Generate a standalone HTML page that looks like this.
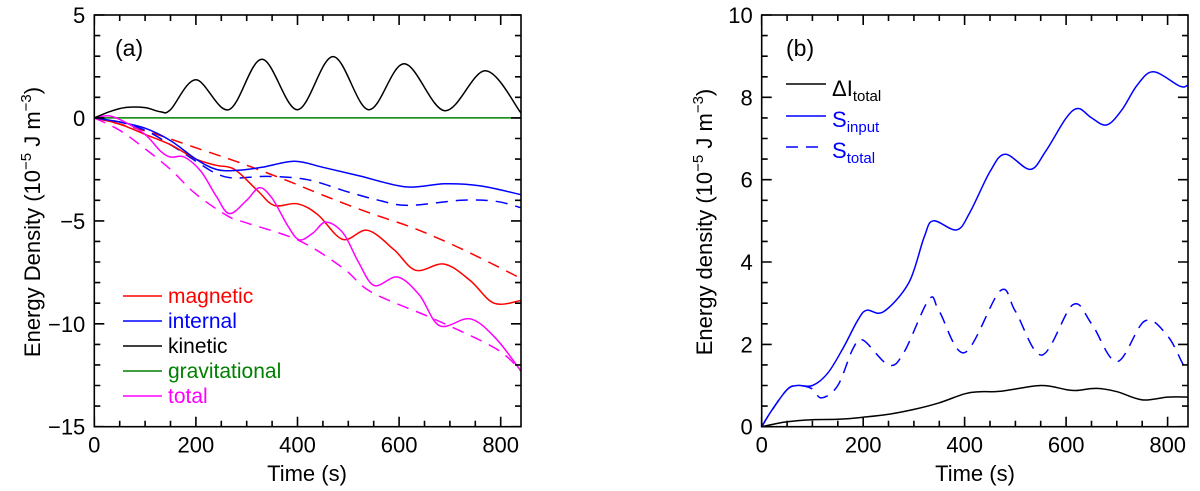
<!DOCTYPE html>
<html><head><meta charset="utf-8"><style>
body{margin:0;background:#fff;}
svg{display:block;font-family:"Liberation Sans",Arial,sans-serif;}
</style></head><body>
<svg id="chart" width="1200" height="491" viewBox="0 0 1200 491" xmlns="http://www.w3.org/2000/svg"></svg>
<script>
// ---- Panel (a) data ----
const timeKin = [0,30,60,100,130,150,200,265,330,400,470,540,610,690,770,840];
const kinetic = [0,0.3,0.5,0.5,0.3,0.4,1.85,0.4,2.85,0.4,2.98,0.4,2.63,0.35,2.29,0.24];
const timeGrav = [0,840];
const gravitational = [0,0];
const timeMag = [0,50,100,150,200,240,276,320,354,400,440,489,538,590,633,689,740,787,840];
const magnetic = [0,-0.3,-0.8,-1.3,-2.0,-2.3,-2.5,-3.5,-4.25,-4.17,-4.7,-5.9,-5.46,-6.4,-7.4,-7.1,-7.9,-9.0,-8.87];
const timeMagD = [0,50,118,200,289,380,459,540,623,700,780,840];
const magneticDashed = [0,-0.3,-0.76,-1.45,-2.2,-3.05,-3.84,-4.6,-5.3,-6.1,-7.05,-7.8];
const timeInt = [0,50,100,150,200,240,280,330,394,450,520,613,689,760,840];
const internal = [0,-0.2,-0.5,-1.1,-2.0,-2.5,-2.55,-2.4,-2.1,-2.4,-2.8,-3.35,-3.2,-3.3,-3.73];
const timeIntD = [0,50,100,150,200,240,276,341,420,500,560,617,722,790,840];
const internalDashed = [0,-0.2,-0.6,-1.3,-2.1,-2.7,-2.92,-2.84,-3.0,-3.6,-4.0,-4.25,-4.0,-4.05,-4.36];
const timeTot = [0,30,60,100,130,150,177,210,240,266,300,325,350,380,403,430,456,490,520,551,597,640,680,740,790,840];
const total = [0,0.1,-0.2,-0.8,-1.6,-1.9,-1.9,-2.6,-3.8,-4.65,-4.0,-3.39,-3.9,-5.2,-5.92,-5.6,-5.06,-5.6,-7.0,-8.14,-7.73,-8.6,-10.1,-9.76,-10.7,-12.3];
const timeTotD = [0,50,100,150,200,265,300,404,490,546,668,790,840];
const totalDashed = [0,-0.6,-1.5,-2.5,-3.7,-4.8,-5.1,-5.97,-7.3,-8.47,-9.76,-11.2,-12.3];
const yTicksA = [5,0,-5,-10,-15];
const yTickLabelsA = ["5","0","\u22125","\u221210","\u221215"];
const xTicks = [0,200,400,600,800];
const xTickLabels = ["0","200","400","600","800"];
// ---- Panel (b) data ----
const timeSin = [0,20,50,70,100,130,160,190,207,240,290,320,338,384,410,450,480,529,560,600,624,650,680,710,740,772,824,840];
const sInput = [0,0.4,0.9,1.0,1.0,1.3,1.9,2.6,2.83,2.79,3.5,4.6,5.0,4.78,5.2,6.2,6.62,6.25,6.7,7.5,7.73,7.5,7.33,7.7,8.3,8.62,8.27,8.3];
const timeStot = [0,20,50,70,98,118,150,180,200,250,280,330,350,400,470,500,552,613,650,700,755,800,831,840];
const sTotal = [0,0.4,0.9,1.0,0.93,0.7,1.0,1.9,2.1,1.5,1.8,3.1,2.8,1.8,3.3,2.8,1.74,2.96,2.5,1.58,2.57,2.2,1.5,1.4];
const timeDI = [0,50,100,150,200,250,300,350,400,430,470,550,600,620,660,700,750,800,840];
const deltaI = [0,0.12,0.17,0.18,0.23,0.3,0.42,0.58,0.8,0.85,0.86,1.0,0.9,0.88,0.93,0.85,0.65,0.72,0.72];
const yTicksB = [10,8,6,4,2,0];
const yTickLabelsB = ["10","8","6","4","2","0"];

const NS="http://www.w3.org/2000/svg";
const svg=document.getElementById('chart');
function el(tag,attrs,parent){const e=document.createElementNS(NS,tag);for(const k in attrs)e.setAttribute(k,attrs[k]);(parent||svg).appendChild(e);return e;}

function makeAxes(x0,x1,y0,y1,xmin,xmax,ymin,ymax){
  return {x:v=>x0+(v-xmin)/(xmax-xmin)*(x1-x0), y:v=>y1-(v-ymin)/(ymax-ymin)*(y1-y0), left:x0,right:x1,top:y0,bottom:y1};
}
function smoothPath(ax,xs,ys){
  const p=xs.map((t,i)=>[ax.x(t),ax.y(ys[i])]);
  let d=`M${p[0][0].toFixed(1)},${p[0][1].toFixed(1)}`;
  for(let i=0;i<p.length-1;i++){
    const a=p[Math.max(i-1,0)],b=p[i],c=p[i+1],e=p[Math.min(i+2,p.length-1)];
    const c1=[b[0]+(c[0]-a[0])/6,b[1]+(c[1]-a[1])/6];
    const c2=[c[0]-(e[0]-b[0])/6,c[1]-(e[1]-b[1])/6];
    d+=`C${c1[0].toFixed(1)},${c1[1].toFixed(1)} ${c2[0].toFixed(1)},${c2[1].toFixed(1)} ${c[0].toFixed(1)},${c[1].toFixed(1)}`;
  }
  return d;
}
function drawSeries(g,ax,xs,ys,color,dashed,name){
  const p=el('path',{d:smoothPath(ax,xs,ys),fill:'none',stroke:color,'stroke-width':1.5,'stroke-dasharray':dashed?'12,8':'none'},g);
  
  
}
function drawLabels(g,ax,yMajor,yLabels){
  const fr=el('rect',{x:ax.left,y:ax.top,width:ax.right-ax.left,height:ax.bottom-ax.top,fill:'none',stroke:'#000','stroke-width':1.6},g);
  
  
  xTicks.forEach((t,i)=>{const tx=el('text',{x:ax.x(t),y:ax.bottom+26,'font-size':22,'text-anchor':'middle'},g);tx.textContent=xTickLabels[i];
    
    });
  yMajor.forEach((v,i)=>{const tx=el('text',{x:ax.left-9,y:ax.y(v)+8,'font-size':22,'text-anchor':'end'},g);tx.textContent=yLabels[i];
    
    });
}

// Panel A
const gA=el('g',{});


const axA=makeAxes(94.3,521,15,426.7,0,840,-15,5);
drawSeries(gA,axA,timeGrav,gravitational,'#008000',false,'gravitational-line');
drawSeries(gA,axA,timeMagD,magneticDashed,'#ff0000',true,'magnetic-dashed-line');
drawSeries(gA,axA,timeIntD,internalDashed,'#0000ff',true,'internal-dashed-line');
drawSeries(gA,axA,timeTotD,totalDashed,'#ff00ff',true,'total-dashed-line');
drawSeries(gA,axA,timeMag,magnetic,'#ff0000',false,'magnetic-line');
drawSeries(gA,axA,timeInt,internal,'#0000ff',false,'internal-line');
drawSeries(gA,axA,timeTot,total,'#ff00ff',false,'total-line');
drawSeries(gA,axA,timeKin,kinetic,'#000000',false,'kinetic-line');
drawLabels(gA,axA,yTicksA,yTickLabelsA);

// Panel B
const gB=el('g',{});


const axB=makeAxes(761.7,1188,15,426.7,0,840,0,10);
drawSeries(gB,axB,timeDI,deltaI,'#000000',false,'delta-i-line');
drawSeries(gB,axB,timeStot,sTotal,'#0000ff',true,'s-total-line');
drawSeries(gB,axB,timeSin,sInput,'#0000ff',false,'s-input-line');
drawLabels(gB,axB,yTicksB,yTickLabelsB);
</script>
<svg style="position:absolute;left:0;top:0" width="1200" height="491">
  <g stroke="#000" stroke-width="1.6" fill="none">
    <path d="M94.3,426.7v-10M119.7,426.7v-6M145.1,426.7v-6M170.5,426.7v-6M195.9,426.7v-10M221.3,426.7v-6M246.7,426.7v-6M272.1,426.7v-6M297.5,426.7v-10M322.9,426.7v-6M348.3,426.7v-6M373.7,426.7v-6M399.1,426.7v-10M424.5,426.7v-6M449.9,426.7v-6M475.3,426.7v-6M500.7,426.7v-10
    M94.3,15v10M119.7,15v6M145.1,15v6M170.5,15v6M195.9,15v10M221.3,15v6M246.7,15v6M272.1,15v6M297.5,15v10M322.9,15v6M348.3,15v6M373.7,15v6M399.1,15v10M424.5,15v6M449.9,15v6M475.3,15v6M500.7,15v10"/>
    <path d="M94.3,15h10M94.3,35.6h6M94.3,56.2h6M94.3,76.8h6M94.3,97.3h6M94.3,117.9h10M94.3,138.5h6M94.3,159.1h6M94.3,179.7h6M94.3,200.3h6M94.3,220.9h10M94.3,241.4h6M94.3,262h6M94.3,282.6h6M94.3,303.2h6M94.3,323.8h10M94.3,344.4h6M94.3,364.9h6M94.3,385.5h6M94.3,406.1h6M94.3,426.7h10
    M521,15h-10M521,35.6h-6M521,56.2h-6M521,76.8h-6M521,97.3h-6M521,117.9h-10M521,138.5h-6M521,159.1h-6M521,179.7h-6M521,200.3h-6M521,220.9h-10M521,241.4h-6M521,262h-6M521,282.6h-6M521,303.2h-6M521,323.8h-10M521,344.4h-6M521,364.9h-6M521,385.5h-6M521,406.1h-6M521,426.7h-10"/>
    <path d="M761.7,426.7v-10M787.1,426.7v-6M812.4,426.7v-6M837.8,426.7v-6M863.2,426.7v-10M888.5,426.7v-6M913.9,426.7v-6M939.3,426.7v-6M964.6,426.7v-10M990,426.7v-6M1015.4,426.7v-6M1040.7,426.7v-6M1066.1,426.7v-10M1091.5,426.7v-6M1116.8,426.7v-6M1142.2,426.7v-6M1167.6,426.7v-10
    M761.7,15v10M787.1,15v6M812.4,15v6M837.8,15v6M863.2,15v10M888.5,15v6M913.9,15v6M939.3,15v6M964.6,15v10M990,15v6M1015.4,15v6M1040.7,15v6M1066.1,15v10M1091.5,15v6M1116.8,15v6M1142.2,15v6M1167.6,15v10"/>
    <path d="M761.7,15h10M761.7,35.6h6M761.7,56.2h6M761.7,76.8h6M761.7,97.3h10M761.7,117.9h6M761.7,138.5h6M761.7,159.1h6M761.7,179.7h10M761.7,200.3h6M761.7,220.9h6M761.7,241.4h6M761.7,262h10M761.7,282.6h6M761.7,303.2h6M761.7,323.8h6M761.7,344.4h10M761.7,364.9h6M761.7,385.5h6M761.7,406.1h6M761.7,426.7h10
    M1188,15h-10M1188,35.6h-6M1188,56.2h-6M1188,76.8h-6M1188,97.3h-10M1188,117.9h-6M1188,138.5h-6M1188,159.1h-6M1188,179.7h-10M1188,200.3h-6M1188,220.9h-6M1188,241.4h-6M1188,262h-10M1188,282.6h-6M1188,303.2h-6M1188,323.8h-6M1188,344.4h-10M1188,364.9h-6M1188,385.5h-6M1188,406.1h-6M1188,426.7h-10"/>
  </g>
  <g font-family="Liberation Sans, Arial, sans-serif">
    <text x="115" y="56" font-size="23">(a)</text>
    <text x="786" y="56" font-size="23">(b)</text>
    <text x="307" y="481" font-size="22" text-anchor="middle">Time (s)</text>
    <text x="975" y="481" font-size="22" text-anchor="middle">Time (s)</text>
    <text transform="translate(40,222) rotate(-90)" font-size="22" text-anchor="middle">Energy Density (10<tspan dy="-9" font-size="15">−5</tspan><tspan dy="9"> J m</tspan><tspan dy="-9" font-size="15">−3</tspan><tspan dy="9">)</tspan></text>
    <text transform="translate(712,222) rotate(-90)" font-size="22" text-anchor="middle">Energy density (10<tspan dy="-9" font-size="15">−5</tspan><tspan dy="9"> J m</tspan><tspan dy="-9" font-size="15">−3</tspan><tspan dy="9">)</tspan></text>
    <g font-size="21">
      <line x1="123" y1="296" x2="162" y2="296" stroke="#ff0000" stroke-width="1.5"/>
      <text x="168" y="303" fill="#ff0000">magnetic</text>
      <line x1="123" y1="321" x2="162" y2="321" stroke="#0000ff" stroke-width="1.5"/>
      <text x="168" y="328" fill="#0000ff">internal</text>
      <line x1="123" y1="346" x2="162" y2="346" stroke="#000" stroke-width="1.5"/>
      <text x="168" y="353" fill="#000">kinetic</text>
      <line x1="123" y1="371" x2="162" y2="371" stroke="#008000" stroke-width="1.5"/>
      <text x="168" y="378" fill="#008000">gravitational</text>
      <line x1="123" y1="396" x2="162" y2="396" stroke="#ff00ff" stroke-width="1.5"/>
      <text x="168" y="403" fill="#ff00ff">total</text>
    </g>
    <g font-size="22">
      <line x1="786" y1="84" x2="826" y2="84" stroke="#000" stroke-width="1.5"/>
      <text x="832" y="96" fill="#000">ΔI<tspan font-size="15" dy="5">total</tspan></text>
      <line x1="786" y1="116" x2="826" y2="116" stroke="#0000ff" stroke-width="1.5"/>
      <text x="832" y="127" fill="#0000ff">S<tspan font-size="15" dy="5">input</tspan></text>
      <line x1="786" y1="147" x2="826" y2="147" stroke="#0000ff" stroke-width="1.5" stroke-dasharray="12,8"/>
      <text x="832" y="158" fill="#0000ff">S<tspan font-size="15" dy="5">total</tspan></text>
    </g>
  </g>
</svg>
</body></html>
